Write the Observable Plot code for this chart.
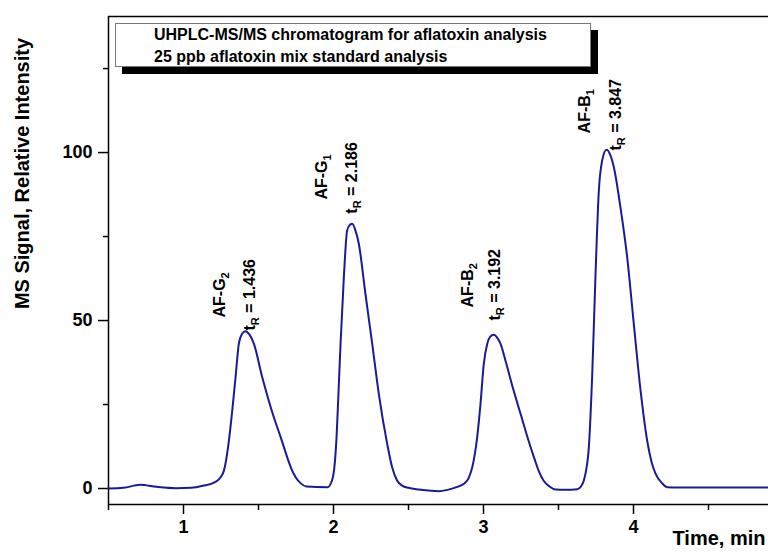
<!DOCTYPE html>
<html>
<head>
<meta charset="utf-8">
<script src="https://cdn.jsdelivr.net/npm/d3@7"></script>
<script src="https://cdn.jsdelivr.net/npm/@observablehq/plot@0.6"></script>
<style>
  body { margin: 0; background: white; }
  #wrap { position: relative; width: 768px; height: 553px; font-family: "Liberation Sans", Arial, sans-serif; }
  #titlebox {
    position: absolute; left: 115px; top: 23px; width: 436px; height: 42px;
    padding-left: 38px; border: 1px solid #777; background: white;
    box-shadow: 7px 7px 0 #000; font-weight: bold; font-size: 16px; line-height: 22px;
    box-sizing: content-box; color: #000;
  }
  #titlebox div { white-space: nowrap; }
</style>
</head>
<body>
<div id="wrap"></div>
<script>
// Chromatogram trace (time in min, relative intensity)
const time = [0.50,0.60,0.71,0.82,0.95,1.05,1.13,1.21,1.25,1.27,1.30,1.325,1.347,1.369,1.39,1.413,1.44,1.469,1.525,1.60,1.65,1.69,1.72,1.75,1.78,1.82,1.96,1.99,2.005,2.02,2.03,2.047,2.069,2.091,2.11,2.125,2.145,2.169,2.213,2.258,2.302,2.358,2.39,2.424,2.46,2.50,2.57,2.65,2.70,2.76,2.82,2.87,2.90,2.925,2.958,2.98,3.002,3.025,3.045,3.069,3.09,3.113,3.15,3.20,3.25,3.30,3.34,3.37,3.40,3.44,3.48,3.55,3.625,3.65,3.669,3.69,3.70,3.725,3.747,3.769,3.791,3.82,3.845,3.869,3.913,3.958,4.002,4.047,4.091,4.12,4.147,4.19,4.225,4.30,4.50,4.70,4.90];
const signal = [0.0,0.2,1.1,0.5,0.1,0.2,0.8,1.9,3.5,5.4,13.3,23.2,33.1,43.1,46.0,46.8,45.8,43.1,33.1,21.5,15.0,9.5,5.8,3.2,1.6,0.6,0.4,2.4,6.0,15.0,25.0,43.1,62.9,76.8,78.5,78.8,77.0,72.8,57.9,43.1,28.2,13.3,6.5,2.4,0.8,0.2,-0.3,-0.7,-0.8,-0.4,0.4,1.4,3.0,6.3,15.3,25.2,37.1,43.1,45.2,45.8,45.0,43.1,37.5,29.3,21.8,14.3,8.8,5.0,2.4,0.6,-0.3,-0.4,-0.2,0.6,2.4,7.0,11.0,34.1,63.9,88.7,97.6,100.8,99.3,95.6,83.7,68.8,49.0,29.2,14.3,8.0,4.4,1.6,0.4,0.3,0.3,0.3,0.3];

// Peak annotations (anchored at time / intensity)
const peakNames = ["AF-G_{2}", "AF-G_{1}", "AF-B_{2}", "AF-B_{1}"];
const nameTime = [1.24, 1.92, 2.897, 3.673];
const nameSignal = [50.9, 86.0, 53.9, 105.7];
const retention = ["1.436", "2.186", "3.192", "3.847"];
const rtTime = [1.44, 2.12, 3.073, 3.88];
const rtSignal = [47.0, 81.8, 50.0, 100.6];

// Axis ticks
const xMajor = [1, 2, 3, 4];
const xMinor = [0.5, 1.5, 2.5, 3.5, 4.5];
const yMajor = [0, 50, 100];
const yMinor = [25, 75, 125];
const xDomain = [0.5, 4.9];
const yDomain = [-4.76, 140.5];

const titleLines = ["UHPLC-MS/MS chromatogram for aflatoxin analysis", "25 ppb aflatoxin mix standard analysis"];
const xTitle = "Time, min";
const yTitle = "MS Signal, Relative Intensity";

const trace = time.map((t, i) => ({t, v: signal[i]}));
const names = peakNames.map((n, i) => ({text: n, t: nameTime[i], v: nameSignal[i]}));
const rts = retention.map((r, i) => ({text: "t_{R} = " + r, t: rtTime[i], v: rtSignal[i]}));

const font = "'Liberation Sans', Arial, sans-serif";
const svg = Plot.plot({
  width: 768, height: 553,
  marginLeft: 108, marginRight: 0, marginTop: 16, marginBottom: 49,
  style: {fontFamily: font, background: "white", color: "black", overflow: "visible"},
  x: {domain: xDomain},
  y: {domain: yDomain},
  marks: [
    Plot.axisY({ticks: yMajor, tickSize: 10, tickPadding: 6, tickFormat: d3.format("d"), fontSize: 18, fontWeight: "bold", label: null, strokeWidth: 1.5}),
    Plot.axisY({ticks: yMinor, tickSize: 5, tickFormat: () => "", label: null, strokeWidth: 1.5}),
    Plot.axisX({ticks: xMajor, tickSize: 10, tickPadding: 6, tickFormat: d3.format("d"), fontSize: 18, fontWeight: "bold", label: null, strokeWidth: 1.5}),
    Plot.axisX({ticks: xMinor, tickSize: 6, tickFormat: () => "", label: null, strokeWidth: 1.5}),
    Plot.ruleX([xDomain[0]], {stroke: "black", strokeWidth: 1.5}),
    Plot.ruleY([yDomain[0]], {stroke: "black", strokeWidth: 1.5}),
    Plot.ruleY([yDomain[1]], {stroke: "black", strokeWidth: 1.5}),
    Plot.line(trace, {x: "t", y: "v", stroke: "#1a1a99", strokeWidth: 2, curve: "monotone-x"}),
    Plot.text(names, {x: "t", y: "v", text: "text", rotate: -90, textAnchor: "start", fontSize: 16, fontWeight: "bold", fill: "black"}),
    Plot.text(rts, {x: "t", y: "v", text: "text", rotate: -90, textAnchor: "start", fontSize: 16, fontWeight: "bold", fill: "black"}),
    Plot.text([yTitle], {frameAnchor: "left", textAnchor: "middle", rotate: -90, dx: -86, dy: -87, fontSize: 20, fontWeight: "bold", fill: "black"}),
    Plot.text([xTitle], {frameAnchor: "bottom-right", textAnchor: "end", dx: -3, dy: 40, fontSize: 20, fontWeight: "bold", fill: "black"})
  ]
});

// Render subscripts written as _{...}
svg.querySelectorAll("text").forEach(el => {
  const s = el.textContent;
  if (!/_\{/.test(s)) return;
  el.textContent = "";
  const parts = s.split(/(_\{[^}]*\})/).filter(p => p.length);
  let shifted = false;
  parts.forEach(p => {
    const ts = document.createElementNS("http://www.w3.org/2000/svg", "tspan");
    if (p.startsWith("_{")) {
      ts.textContent = p.slice(2, -1);
      ts.setAttribute("font-size", "11");
      ts.setAttribute("dy", "4");
      shifted = true;
    } else {
      ts.textContent = p;
      if (shifted) { ts.setAttribute("dy", "-4"); shifted = false; }
    }
    el.appendChild(ts);
  });
});

const wrap = document.getElementById("wrap");
wrap.appendChild(svg);
const box = document.createElement("div");
box.id = "titlebox";
titleLines.forEach(l => { const d = document.createElement("div"); d.textContent = l; box.appendChild(d); });
wrap.appendChild(box);
</script>
</body>
</html>
